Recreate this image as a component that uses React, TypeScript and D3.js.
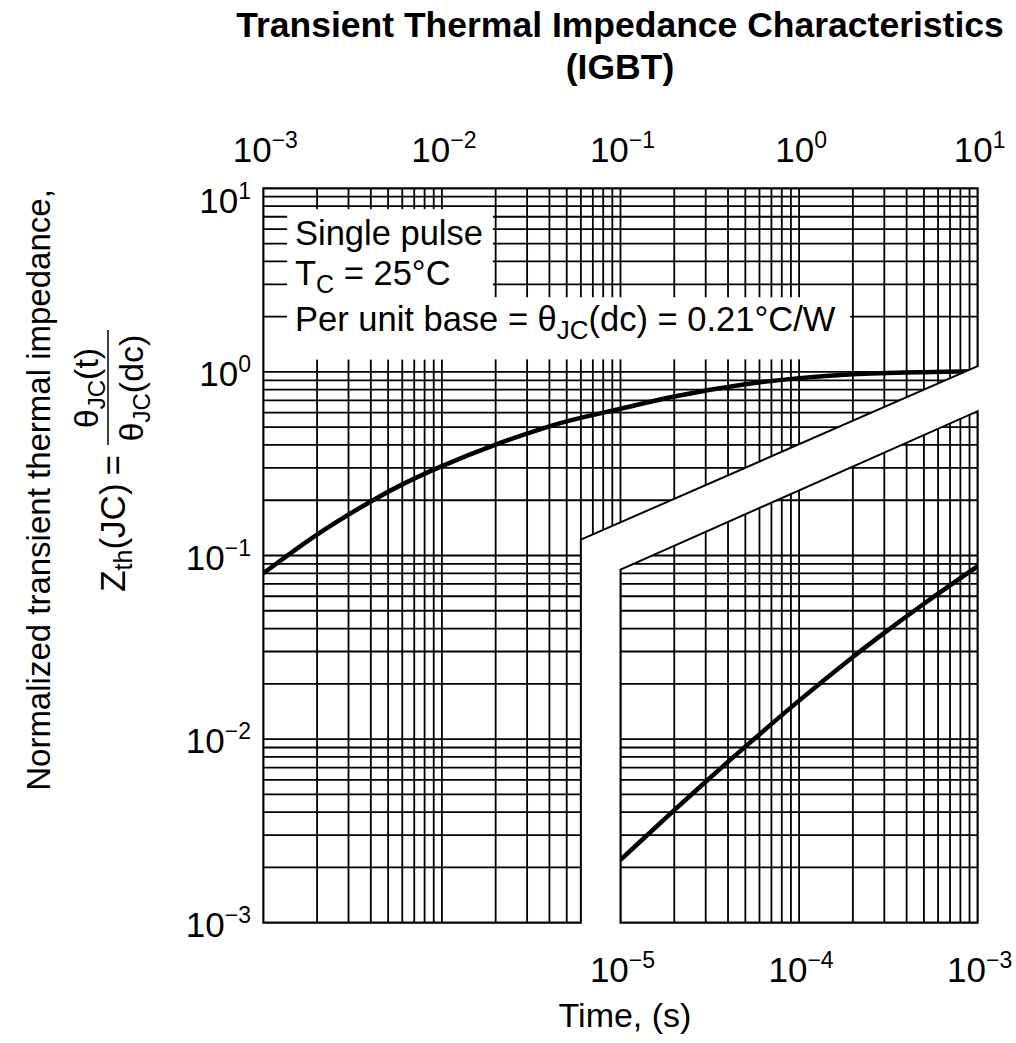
import React from 'react';
import * as d3 from 'd3';

// top axis (upper-left chart) and bottom axis (inset) decades
const topTickExp = [-3, -2, -1, 0, 1];
const bottomTickExp = [-5, -4, -3];
const leftTickExp = [1, 0, -1, -2, -3];

// IGBT single pulse curve, long time range (top axis)
const mainTime = [1e-3, 2e-3, 4e-3, 6e-3, 1e-2, 2e-2, 4e-2, 5e-2, 1e-1, 2e-1, 5e-1, 1, 2, 5, 10];
const mainZth = [0.08, 0.13, 0.197, 0.244, 0.307, 0.402, 0.505, 0.538, 0.63, 0.735, 0.857, 0.925, 0.97, 0.997, 1.008];

// short time range (bottom axis)
const insetTime = [1e-5, 2e-5, 3e-5, 5e-5, 1e-4, 2e-4, 3e-4, 5e-4, 1e-3];
const insetZth = [0.0022, 0.0041, 0.00586, 0.0091, 0.0162, 0.028, 0.0379, 0.0546, 0.0875];

const W = 1016;
const H = 1043;
const margin = { left: 263.3, right: 977.7, top: 188.3, bottom: 922.7 };
const FONT = 'Liberation Sans, Arial, Helvetica, sans-serif';

const logGrid = (lo: number, hi: number) => {
  const out: number[] = [];
  for (let e = lo; e < hi; e++) {
    for (let k = 1; k <= 9; k++) out.push(k * Math.pow(10, e));
  }
  out.push(Math.pow(10, hi));
  return out;
};

const Pow10 = ({ x, y, exp, anchor = 'middle' }: { x: number; y: number; exp: number; anchor?: string }) => (
  <text x={x} y={y} textAnchor={anchor} fontSize={35} fontFamily={FONT} fill="#000">
    10
    <tspan dy={-14} fontSize={23}>{exp < 0 ? '\u2212' + Math.abs(exp) : String(exp)}</tspan>
  </text>
);

const App: React.FC = () => {
  const x = d3.scaleLog().domain([1e-3, 10]).range([margin.left, margin.right]);
  const xi = d3.scaleLog().domain([1e-5, 1e-3]).range([x(0.1), margin.right]);
  const y = d3.scaleLog().domain([1e-3, 10]).range([margin.bottom, margin.top]);

  // outline of the upper chart and of the inset (the white band sits between them)
  const mainOutline: [number, number][] = [
    [x(1e-3), y(10)],
    [x(10), y(10)],
    [x(10), y(1.075)],
    [x(0.06), y(0.122)],
    [x(0.06), y(1e-3)],
    [x(1e-3), y(1e-3)],
  ];
  const insetOutline: [number, number][] = [
    [xi(1e-5), y(0.0838)],
    [xi(1e-3), y(0.611)],
    [xi(1e-3), y(1e-3)],
    [xi(1e-5), y(1e-3)],
  ];
  const poly = (p: [number, number][]) => 'M' + p.map((d) => d.join(',')).join('L') + 'Z';

  const xGridMain = logGrid(-3, 1);
  const xGridInset = logGrid(-5, -3);
  const yGrid = logGrid(-3, 1);

  const mainLine = d3
    .line<number>()
    .x((_, i) => x(mainTime[i]))
    .y((d) => y(d))
    .curve(d3.curveCatmullRom.alpha(0.5));
  const insetLine = d3
    .line<number>()
    .x((_, i) => xi(insetTime[i]))
    .y((d) => y(d))
    .curve(d3.curveCatmullRom.alpha(0.5));

  // white boxes behind the annotation text
  const boxA = { x0: x(1.36e-3), x1: x(0.0193), y0: y(7.7), y1: y(1.17) };
  const boxB = { x0: x(1.36e-3), x1: x(1.93), y0: y(2.55), y1: y(1.17) };

  const gridStroke = { stroke: '#000', strokeWidth: 1.8 };

  return (
    <svg width={W} height={H} style={{ position: 'absolute', left: 0, top: 0, background: '#fff' }}>
      <defs>
        <clipPath id="mainClip">
          <path d={poly(mainOutline)} />
        </clipPath>
        <clipPath id="insetClip">
          <path d={poly(insetOutline)} />
        </clipPath>
      </defs>
      <rect x={0} y={0} width={W} height={H} fill="#fff" />

      {/* title */}
      <text x={620} y={37} textAnchor="middle" fontSize={35.5} fontWeight="bold" fontFamily={FONT}>
        Transient Thermal Impedance Characteristics
      </text>
      <text x={620} y={79} textAnchor="middle" fontSize={35.5} fontWeight="bold" fontFamily={FONT}>
        (IGBT)
      </text>

      {/* upper chart grid */}
      <g clipPath="url(#mainClip)">
        {xGridMain.map((v, i) => (
          <line key={'vx' + i} x1={x(v)} x2={x(v)} y1={margin.top} y2={margin.bottom} {...gridStroke} />
        ))}
        {yGrid.map((v, i) => (
          <line key={'hy' + i} x1={margin.left} x2={margin.right} y1={y(v)} y2={y(v)} {...gridStroke} />
        ))}
        <rect x={boxA.x0} y={boxA.y0} width={boxA.x1 - boxA.x0} height={boxA.y1 - boxA.y0} fill="#fff" />
        <rect x={boxB.x0} y={boxB.y0} width={boxB.x1 - boxB.x0} height={boxB.y1 - boxB.y0} fill="#fff" />
        <path d={mainLine(mainZth) || ''} fill="none" stroke="#000" strokeWidth={4.5} />
      </g>
      <path d={poly(mainOutline)} fill="none" stroke="#000" strokeWidth={2} />

      {/* inset grid */}
      <g clipPath="url(#insetClip)">
        {xGridInset.map((v, i) => (
          <line key={'ix' + i} x1={xi(v)} x2={xi(v)} y1={margin.top} y2={margin.bottom} {...gridStroke} />
        ))}
        {yGrid.map((v, i) => (
          <line key={'iy' + i} x1={xi(1e-5)} x2={margin.right} y1={y(v)} y2={y(v)} {...gridStroke} />
        ))}
        <path d={insetLine(insetZth) || ''} fill="none" stroke="#000" strokeWidth={4.5} />
      </g>
      <path d={poly(insetOutline)} fill="none" stroke="#000" strokeWidth={2} />

      {/* annotation */}
      <g fontFamily={FONT} fontSize={34.5} fill="#000">
        <text x={295} y={245}>Single pulse</text>
        <text x={295} y={285}>
          T<tspan dy={8} fontSize={25}>C</tspan>
          <tspan dy={-8}> = 25°C</tspan>
        </text>
        <text x={295} y={331}>
          Per unit base = θ<tspan dy={8} fontSize={26}>JC</tspan>
          <tspan dy={-8}>(dc) = 0.21°C/W</tspan>
        </text>
      </g>

      {/* tick labels */}
      {topTickExp.map((e) => (
        <Pow10 key={'t' + e} x={x(Math.pow(10, e)) + 2} y={162} exp={e} />
      ))}
      {bottomTickExp.map((e) => (
        <Pow10 key={'b' + e} x={xi(Math.pow(10, e)) + 2} y={982} exp={e} />
      ))}
      {leftTickExp.map((e) => (
        <Pow10 key={'l' + e} x={251} y={y(Math.pow(10, e)) + (e === 1 ? 25 : 14)} exp={e} anchor="end" />
      ))}

      {/* axis titles */}
      <text x={625} y={1027} textAnchor="middle" fontSize={34} fontFamily={FONT}>
        Time, (s)
      </text>
      <text
        transform="translate(50,490) rotate(-90)"
        textAnchor="middle"
        fontSize={33}
        fontFamily={FONT}
      >
        Normalized transient thermal impedance,
      </text>
      <g transform="translate(108,485) rotate(-90)" fontFamily={FONT} fontSize={35}>
        <text x={30} y={17} textAnchor="end">
          Z<tspan dy={7} fontSize={25}>th</tspan>
          <tspan dy={-7}>(JC)</tspan>
          <tspan dx={8}>=</tspan>
        </text>
        <text x={97} y={-10} textAnchor="middle" fontSize={34}>
          θ<tspan dy={7} fontSize={24}>JC</tspan>
          <tspan dy={-7}>(t)</tspan>
        </text>
        <line x1={40} x2={155} y1={0} y2={0} stroke="#000" strokeWidth={1.5} />
        <text x={97} y={35} textAnchor="middle" fontSize={34}>
          θ<tspan dy={7} fontSize={24}>JC</tspan>
          <tspan dy={-7}>(dc)</tspan>
        </text>
      </g>
    </svg>
  );
};

export default App;
